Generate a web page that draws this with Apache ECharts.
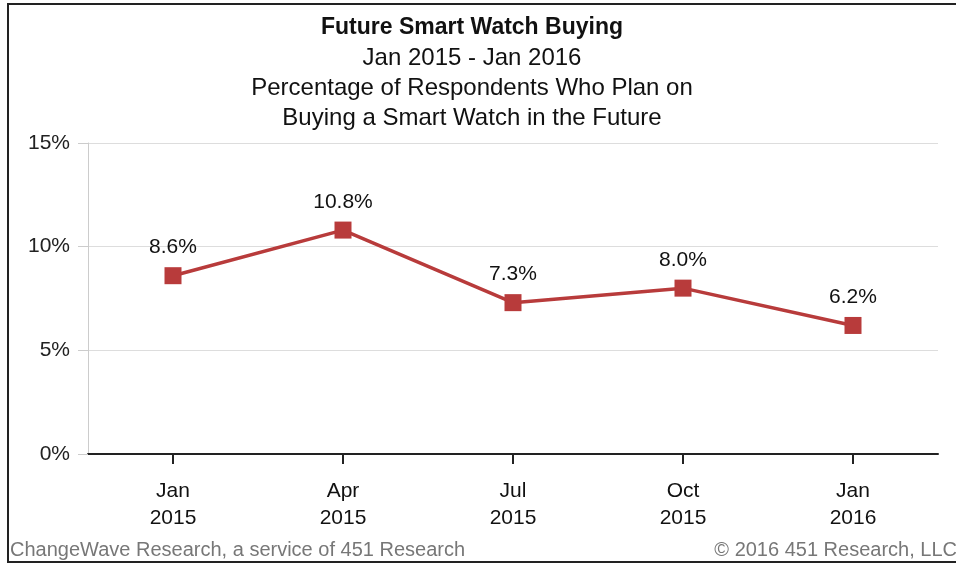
<!DOCTYPE html>
<html>
<head>
<meta charset="utf-8">
<script src="https://cdn.jsdelivr.net/npm/echarts@6/dist/echarts.min.js"></script>
<style>
  html, body { margin: 0; padding: 0; background: #fff; }
  #chart { width: 956px; height: 564px; }
</style>
</head>
<body>
<div id="chart"></div>
<script>
// 数据
const categories = ['Jan\n2015', 'Apr\n2015', 'Jul\n2015', 'Oct\n2015', 'Jan\n2016'];
const values = [8.6, 10.8, 7.3, 8.0, 6.2];
const yTicks = [0, 5, 10, 15];

const font = '"Liberation Sans", Arial, sans-serif';
const chart = echarts.init(document.getElementById('chart'));

const option = {
  backgroundColor: '#fff',
  animation: false,
  title: [
    {
      text: 'Future Smart Watch Buying',
      left: 472, top: 16, textAlign: 'center', padding: 0,
      textStyle: { fontFamily: font, fontSize: 23, fontWeight: 'bold', color: '#111' }
    },
    {
      text: 'Jan 2015 - Jan 2016\nPercentage of Respondents Who Plan on\nBuying a Smart Watch in the Future',
      left: 472, top: 43, textAlign: 'center', padding: 0,
      textStyle: { fontFamily: font, fontSize: 24, fontWeight: 'normal', color: '#111', lineHeight: 30 }
    },
    {
      text: 'ChangeWave Research, a service of 451 Research',
      left: 10, top: 540, padding: 0,
      textStyle: { fontFamily: font, fontSize: 20, fontWeight: 'normal', color: '#777' }
    },
    {
      text: '© 2016 451 Research, LLC',
      right: -1, top: 540, padding: 0,
      textStyle: { fontFamily: font, fontSize: 20, fontWeight: 'normal', color: '#777' }
    }
  ],
  graphic: [{
    type: 'rect',
    shape: { x: 8, y: 4, width: 960, height: 558 },
    style: { fill: 'none', stroke: '#222', lineWidth: 2 },
    silent: true
  }],
  grid: { left: 88, right: 18, top: 143, bottom: 110 },
  xAxis: {
    type: 'category',
    data: categories,
    boundaryGap: true,
    axisLine: { lineStyle: { color: '#222', width: 2 } },
    axisTick: { show: true, length: 10, alignWithLabel: true, lineStyle: { color: '#222', width: 2 } },
    axisLabel: { fontFamily: font, fontSize: 21, color: '#111', lineHeight: 27, margin: 24 },
    splitLine: { show: false }
  },
  yAxis: {
    type: 'value',
    min: yTicks[0],
    max: yTicks[yTicks.length - 1],
    interval: 5,
    axisLine: { show: true, lineStyle: { color: '#ccc', width: 1 } },
    axisTick: { show: true, inside: false, length: 10, lineStyle: { color: '#ccc' } },
    axisLabel: { fontFamily: font, fontSize: 21, color: '#222', margin: 18, formatter: '{value}%' },
    splitLine: { show: true, lineStyle: { color: '#ddd', width: 1 } }
  },
  series: [{
    type: 'line',
    data: values,
    symbol: 'rect',
    symbolSize: 17,
    lineStyle: { color: '#b83b3b', width: 3.5 },
    itemStyle: { color: '#b83b3b' },
    label: {
      show: true,
      position: 'top',
      distance: 9,
      fontFamily: font,
      fontSize: 21,
      color: '#111',
      formatter: p => p.value.toFixed(1) + '%'
    }
  }]
};

chart.setOption(option);
</script>
</body>
</html>
